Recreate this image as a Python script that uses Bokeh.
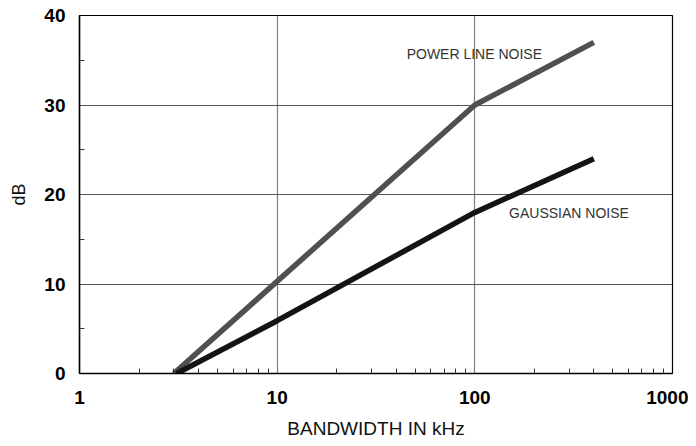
from bokeh.plotting import figure
from bokeh.models import FixedTicker, Range1d, Label
from bokeh.embed import file_html
from bokeh.resources import INLINE

# Data
power_bw = [3.0, 100, 400]
power_db = [0, 30, 37]
gauss_bw = [3.1, 10, 100, 400]
gauss_db = [0, 5.9, 18, 24]

x_major = [1, 10, 100, 1000]
x_minor = [m * d for d in (1, 10, 100) for m in range(2, 10)]
y_major = [0, 10, 20, 30, 40]
y_minor = [5, 15, 25, 35]

power_label = "POWER LINE NOISE"
gauss_label = "GAUSSIAN NOISE"

p = figure(width=688, height=438, x_axis_type="log",
           x_range=Range1d(1, 1000), y_range=Range1d(0, 40),
           output_backend="svg", toolbar_location=None,
           min_border_left=79, min_border_right=16,
           min_border_top=15, min_border_bottom=65)
p.frame_width = 593
p.frame_height = 358

p.background_fill_color = "white"
p.border_fill_color = "white"
p.outline_line_color = "black"
p.outline_line_width = 1.2

p.xaxis.ticker = FixedTicker(ticks=x_major, minor_ticks=x_minor)
p.yaxis.ticker = FixedTicker(ticks=y_major, minor_ticks=y_minor)
p.xaxis.major_label_overrides = {1: "1", 10: "10", 100: "100", 1000: "1000"}

for ax in (p.xaxis, p.yaxis):
    ax.axis_line_color = "black"
    ax.axis_line_width = 1.5
    ax.major_tick_out = 0
    ax.major_tick_in = 0
    ax.minor_tick_out = 0
    ax.minor_tick_in = 5
    ax.minor_tick_line_color = "#333333"
    ax.major_label_text_font = "Liberation Sans"
    ax.major_label_text_font_style = "bold"
    ax.major_label_text_font_size = "19px"
    ax.major_label_text_color = "black"
    ax.axis_label_text_font = "Liberation Sans"
    ax.axis_label_text_font_style = "normal"
    ax.axis_label_text_color = "#111111"

p.xaxis.axis_label = "BANDWIDTH IN kHz"
p.xaxis.axis_label_text_font_size = "19px"
p.xaxis.major_label_standoff = 17
p.xaxis.axis_label_standoff = 11
p.yaxis.axis_label = "dB"
p.yaxis.axis_label_text_font_size = "18px"
p.yaxis.major_label_standoff = 14
p.yaxis.axis_label_standoff = 12

p.xgrid.ticker = FixedTicker(ticks=[10, 100])
p.ygrid.ticker = FixedTicker(ticks=[10, 20, 30])
p.xgrid.grid_line_color = "#808080"
p.ygrid.grid_line_color = "#555555"
p.xgrid.grid_line_width = 1.2
p.ygrid.grid_line_width = 1.2

p.line(power_bw, power_db, line_color="#505050", line_width=5.5)
p.line(gauss_bw, gauss_db, line_color="#141414", line_width=5.5)

p.add_layout(Label(x=45.2, y=35.7, text=power_label, text_font="Liberation Sans",
                   text_font_size="14px", text_color="#333333",
                   text_baseline="middle", text_align="left"))
p.add_layout(Label(x=149, y=17.93, text=gauss_label, text_font="Liberation Sans",
                   text_font_size="14px", text_color="#333333",
                   text_baseline="middle", text_align="left"))

open("out.html", "w").write(file_html(p, INLINE))
